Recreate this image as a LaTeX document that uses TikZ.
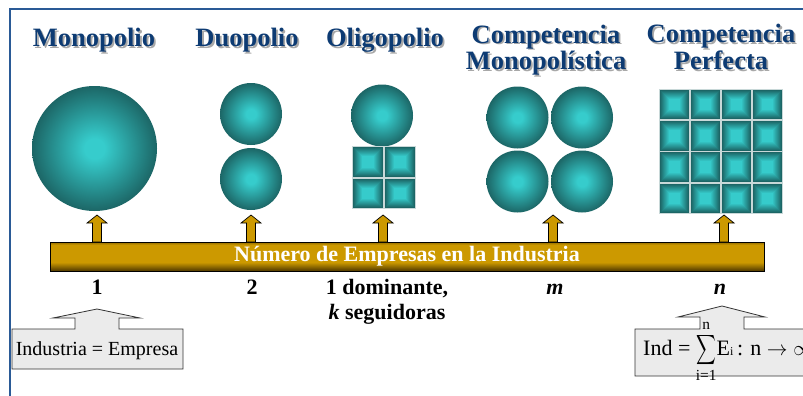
\documentclass[tikz,border=0pt]{standalone}
\usepackage{amsmath}
\usepackage{fontspec}
\setmainfont{Liberation Serif}
\usetikzlibrary{positioning, backgrounds}

\definecolor{marco}{HTML}{2A5A96}
\definecolor{titulo}{HTML}{0D3B73}
\definecolor{sombra}{HTML}{A8A8A8}
\definecolor{tealClaro}{HTML}{36CCCC}
\definecolor{tealOsc}{HTML}{1C6666}
\definecolor{oro}{HTML}{CC9900}
\definecolor{oroOsc}{HTML}{4E3800}
\definecolor{cajaGris}{HTML}{EBEBEB}
\definecolor{rejilla}{HTML}{C8D8D8}

\pgfdeclareradialshading{esfera}{\pgfpoint{0bp}{0bp}}{color(0bp)=(tealClaro); color(4bp)=(tealClaro); color(25bp)=(tealOsc); color(50bp)=(tealOsc)}
\pgfdeclareverticalshading{lingote}{100bp}{color(0bp)=(oroOsc); color(25bp)=(oroOsc); color(40bp)=(oro); color(70bp)=(oro); color(75bp)=(oroOsc!45!oro); color(100bp)=(oroOsc!45!oro)}

\newcommand{\sombreado}[1]{\makebox[0pt][l]{\kern1.8pt\raisebox{-1.8pt}{\textcolor{sombra}{#1}}}#1}

\tikzset{
  titulo/.style={text=titulo, font=\bfseries\fontsize{26.5}{23}\selectfont, align=center, inner sep=0pt},
  bola/.style={circle, inner sep=0pt, shading=esfera},
  barra/.style={draw=black, line width=0.8pt, shading=lingote,
    minimum width=714pt, minimum height=29pt, inner sep=0pt, text=white, font=\bfseries\fontsize{22}{22}\selectfont},
  etiqueta/.style={font=\bfseries\fontsize{22}{25}\selectfont, align=center, inner sep=0pt},
  llamada/.style={draw=black!80, fill=cajaGris, line width=0.8pt},
  flecha/.style={draw=black, fill=oro, line width=0.7pt, line join=miter},
  pics/celda/.style={code={
    \foreach \k in {0,...,9}{
      \pgfmathtruncatemacro\mezcla{\k*11}
      \pgfmathsetmacro\lado{14.75-\k*1.0}
      \fill[tealClaro!\mezcla!tealOsc] (-\lado,-\lado) rectangle (\lado,\lado);
    }
  }},
  pics/flechaoro/.style={code={
    \draw[flecha] (-4.5,0) -- (-4.5,-19) -- (-10,-19) -- (0,-27) -- (10,-19) -- (4.5,-19) -- (4.5,0) -- cycle;
  }}
}

\begin{document}
\begin{tikzpicture}[x=1pt, y=-1pt]
  \useasboundingbox (0,0) rectangle (803,396);
  \draw[marco, line width=1.6pt] (10,9) rectangle (840,420);

  % titulos
  \node[titulo, anchor=base] (t-mono) at (94,47) {\sombreado{Monopolio}};
  \node[titulo, anchor=base] (t-duo) at (247,47) {\sombreado{Duopolio}};
  \node[titulo, anchor=base] (t-oli) at (385,47) {\sombreado{Oligopolio}};
  \node[titulo, anchor=base] (t-cm) at (546,70) {\sombreado{Competencia}\\\sombreado{Monopolística}};
  \node[titulo, anchor=base] (t-cp) at (721,70) {\sombreado{Competencia}\\\sombreado{Perfecta}};

  % esferas
  \node[bola, minimum size=125pt] (mono) at (94.5,148.5) {};
  \foreach \y [count=\i] in {114,179}
    \node[bola, minimum size=62pt] (duo-\i) at (251,\y) {};
  \node[bola, minimum size=62pt] (oli) at (382,115.5) {};
  \foreach \x/\y [count=\i] in {517.5/117.5, 582/117.5, 517.5/181.5, 582/181.5}
    \node[bola, minimum size=62pt] (cm-\i) at (\x,\y) {};

  % cuadros
  \fill[rejilla] (352,146) rectangle (416,209);
  \foreach \i in {0,1}
    \foreach \j in {0,1}
      \pic at (368+32*\i, 162+31.5*\j) {celda};
  \fill[rejilla] (659,89) rectangle (783,214);
  \foreach \i in {0,...,3}
    \foreach \j in {0,...,3}
      \pic at (674.5+31*\i, 104.5+31.25*\j) {celda};

  % barra y flechas
  \node[barra] (barra) at (407,256.5) {Número de Empresas en la Industria};
  \foreach \x [count=\i] in {97,251,383,553,724}
    \pic (flecha-\i) at (\x,242) {flechaoro};

  % etiquetas
  \node[etiqueta, anchor=base] (n-1) at (97,294) {1};
  \node[etiqueta, anchor=base] (n-2) at (252,294) {2};
  \node[etiqueta, anchor=base] (n-oli) at (387,319) {1 dominante,\\\textit{k} seguidoras};
  \node[etiqueta, anchor=base] (n-m) at (555,294) {\textit{m}};
  \node[etiqueta, anchor=base] (n-n) at (720,294) {\textit{n}};

  % llamadas
  \node[font=\fontsize{20}{20}\selectfont, anchor=base, inner sep=0pt] (igual) at (97,355) {Industria = Empresa};
  \node[font=\fontsize{22}{22}\selectfont, anchor=base west, inner sep=0pt] (suma) at (643,355)
    {Ind = \(\displaystyle\mathop{\scalebox{0.66}[1]{\(\displaystyle\sum\)}}\limits_{\text{i=1}}^{\text{n}}\)E{\fontsize{12}{12}\selectfont i}\,: n \(\rightarrow\infty\)};
  \begin{scope}[on background layer]
    \fill[white] (0,0) rectangle (803,396);
    \filldraw[llamada] (12,369) -- (12,329) -- (75,329) -- (75,318) -- (53,318) -- (97,309) -- (140,318)
      -- (119,318) -- (119,329) -- (183,329) -- (183,369) -- cycle;
    \filldraw[llamada] (635,376) -- (635,329) -- (700,329) -- (700,317) -- (678,317) -- (722,306) -- (765,317)
      -- (744,317) -- (744,329) -- (840,329) -- (840,376) -- cycle;
  \end{scope}
\end{tikzpicture}
\end{document}
